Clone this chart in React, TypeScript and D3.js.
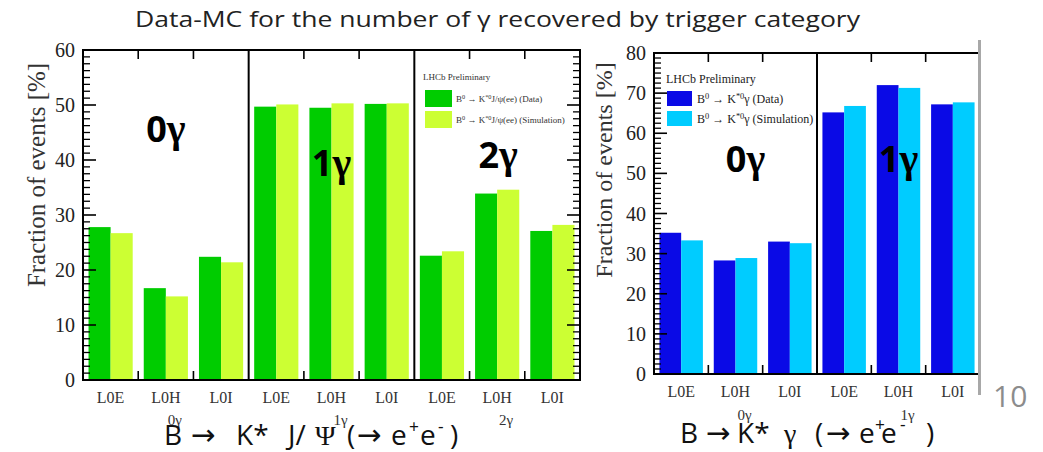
import React from "react";
import * as d3 from "d3";

// ---------- data ----------
const triggerCats = ["L0E", "L0H", "L0I"];
const leftGroups = ["0γ", "1γ", "2γ"];
const leftData = [27.8, 16.7, 22.4, 49.7, 49.5, 50.2, 22.6, 33.9, 27.1];
const leftSim = [26.7, 15.2, 21.4, 50.1, 50.3, 50.3, 23.4, 34.6, 28.2];
const leftTicks = [0, 10, 20, 30, 40, 50, 60];

const rightGroups = ["0γ", "1γ"];
const rightData = [35.2, 28.3, 33.0, 65.2, 72.0, 67.2];
const rightSim = [33.3, 28.9, 32.6, 66.8, 71.3, 67.7];
const rightTicks = [0, 10, 20, 30, 40, 50, 60, 70, 80];

const SERIF = "'Liberation Serif', 'Times New Roman', serif";
const SANS = "'Open Sans', 'Liberation Sans', sans-serif";
const ARROWF = "'DejaVu Sans', sans-serif";

type PanelProps = {
  x0: number; x1: number; yTop: number; yBot: number; yMax: number;
  ticks: number[]; groups: string[]; data: number[]; sim: number[];
  cData: string; cSim: string; minorStep: number; rightTicksOn: boolean;
  tickFont: number; catFont: number; bigLabels: { dx: number; y: number }[];
  groupLabelY: number; catLabelY: number;
};

function Panel(p: PanelProps) {
  const n = p.data.length;
  const x = d3.scaleLinear().domain([0, n]).range([p.x0, p.x1]);
  const y = d3.scaleLinear().domain([0, p.yMax]).range([p.yBot, p.yTop]);
  const minors = d3.range(0, p.yMax + 1e-6, p.minorStep).filter(v => Math.abs(v / 10 - Math.round(v / 10)) > 1e-6);
  const per = triggerCats.length;
  const els: React.ReactNode[] = [];
  p.data.forEach((v, i) => {
    els.push(<rect key={"d" + i} x={x(i + 0.1)} y={y(v)} width={x(i + 0.5) - x(i + 0.1)} height={y(0) - y(v)} fill={p.cData} />);
    els.push(<rect key={"s" + i} x={x(i + 0.5)} y={y(p.sim[i])} width={x(i + 0.9) - x(i + 0.5)} height={y(0) - y(p.sim[i])} fill={p.cSim} />);
  });
  p.ticks.forEach(t => {
    els.push(<line key={"yt" + t} x1={p.x0} x2={p.x0 + 13} y1={y(t)} y2={y(t)} stroke="#000" strokeWidth={1.6} />);
    if (p.rightTicksOn) els.push(<line key={"yr" + t} x1={p.x1} x2={p.x1 - 13} y1={y(t)} y2={y(t)} stroke="#000" strokeWidth={1.6} />);
    els.push(<text key={"yl" + t} x={p.x0 - 8} y={y(t)} dy="0.35em" textAnchor="end" fontFamily={SERIF} fontSize={p.tickFont} fill="#222">{t}</text>);
  });
  minors.forEach(t => {
    els.push(<line key={"ym" + t} x1={p.x0} x2={p.x0 + 7} y1={y(t)} y2={y(t)} stroke="#000" strokeWidth={1.3} />);
    if (p.rightTicksOn) els.push(<line key={"ymr" + t} x1={p.x1} x2={p.x1 - 7} y1={y(t)} y2={y(t)} stroke="#000" strokeWidth={1.3} />);
  });
  for (let i = 1; i < n; i++) {
    if (i % per === 0) {
      els.push(<line key={"dv" + i} x1={x(i)} x2={x(i)} y1={p.yTop} y2={p.yBot} stroke="#000" strokeWidth={2} />);
    } else {
      els.push(<line key={"xb" + i} x1={x(i)} x2={x(i)} y1={p.yBot} y2={p.yBot - 9} stroke="#000" strokeWidth={1.6} />);
      els.push(<line key={"xt" + i} x1={x(i)} x2={x(i)} y1={p.yTop} y2={p.yTop + 9} stroke="#000" strokeWidth={1.6} />);
    }
  }
  p.data.forEach((_, i) => {
    els.push(<text key={"cl" + i} x={x(i + 0.5)} y={p.catLabelY} textAnchor="middle" fontFamily={SERIF} fontSize={p.catFont} fill="#333">{triggerCats[i % per]}</text>);
  });
  p.groups.forEach((g, gi) => {
    const cx = x(gi * per + per / 2);
    els.push(<text key={"gl" + gi} x={cx + 9} y={p.groupLabelY} textAnchor="middle" fontFamily={SERIF} fontSize={15} fill="#333">{g}</text>);
    const b = p.bigLabels[gi];
    els.push(
      <text key={"bg" + gi} x={cx + b.dx} y={b.y} textAnchor="middle" fontFamily={SANS} fontWeight="bold" fontSize={36} fill="#000">
        {g.slice(0, 1)}<tspan fontFamily={SERIF} fontSize={40}>{g.slice(1)}</tspan>
      </text>
    );
  });
  els.push(<rect key="frame" x={p.x0} y={p.yTop} width={p.x1 - p.x0} height={p.yBot - p.yTop} fill="none" stroke="#000" strokeWidth={2} />);
  return <g>{els}</g>;
}

function Sup({ children }: { children: React.ReactNode }) {
  return <tspan baselineShift="super" fontSize="70%">{children}</tspan>;
}

type Tok = { x: number; t: string; arrow?: boolean; sup?: boolean; serif?: boolean };
function Tokens({ toks, y, size }: { toks: Tok[]; y: number; size: number }) {
  return (
    <g>
      {toks.map((k, i) => (
        <text key={i} x={k.x} y={k.sup ? y - size * 0.42 : y}
          fontFamily={k.arrow ? ARROWF : k.serif ? SERIF : SANS}
          fontSize={k.sup ? size * 0.62 : k.arrow ? size * 1.05 : size} fill="#111">{k.t}</text>
      ))}
    </g>
  );
}

const leftTitleToks: Tok[] = [
  { x: 164, t: "B" }, { x: 191, t: "→", arrow: true }, { x: 236, t: "K*" },
  { x: 288, t: "J/" }, { x: 315, t: "Ψ", serif: true }, { x: 347, t: "(" }, { x: 357, t: "→", arrow: true },
  { x: 391, t: "e" }, { x: 409, t: "+", sup: true }, { x: 420, t: "e" }, { x: 438, t: "-", sup: true }, { x: 450, t: ")" },
];
const rightTitleToks: Tok[] = [
  { x: 680, t: "B" }, { x: 706, t: "→", arrow: true }, { x: 737, t: "K*" },
  { x: 784, t: "γ", serif: true }, { x: 815, t: "(" }, { x: 826, t: "→", arrow: true },
  { x: 859, t: "e" }, { x: 875, t: "+", sup: true }, { x: 881, t: "e" }, { x: 900, t: "-", sup: true }, { x: 926, t: ")" },
];

export default function App() {
  return (
    <svg width={1043} height={452} style={{ position: "absolute", left: 0, top: 0, background: "#fff" }}>
      <rect x={0} y={0} width={1043} height={452} fill="#fff" />
      <text x={135} y={27} fontFamily={SANS} fontSize={22} fill="#222" textLength={725} lengthAdjust="spacingAndGlyphs">
        Data-MC for the number of γ recovered by trigger category
      </text>

      <Panel x0={83} x1={580} yTop={50} yBot={380} yMax={60} ticks={leftTicks} groups={leftGroups}
        data={leftData} sim={leftSim} cData="#00cc00" cSim="#ccff33" minorStep={1.25} rightTicksOn={true}
        tickFont={20} catFont={16} groupLabelY={425} catLabelY={403}
        bigLabels={[{ dx: 0, y: 142 }, { dx: 0, y: 176 }, { dx: 1, y: 168 }]} />
      <text transform="translate(45,175) rotate(-90)" textAnchor="middle" fontFamily={SERIF} fontSize={25} fill="#333">
        Fraction of events [%]
      </text>
      <text x={423} y={80} fontFamily={SERIF} fontSize={9} fill="#333">LHCb Preliminary</text>
      <rect x={425} y={90} width={27} height={17} fill="#00cc00" />
      <text x={456} y={102} fontFamily={SERIF} fontSize={9} fill="#333">B<Sup>0</Sup> → K<Sup>*0</Sup>J/ψ(ee) (Data)</text>
      <rect x={425} y={111} width={27} height={17} fill="#ccff33" />
      <text x={456} y={123} fontFamily={SERIF} fontSize={9} fill="#333">B<Sup>0</Sup> → K<Sup>*0</Sup>J/ψ(ee) (Simulation)</text>

      <Panel x0={654} x1={980} yTop={53} yBot={374} yMax={80} ticks={rightTicks} groups={rightGroups}
        data={rightData} sim={rightSim} cData="#0a0ae6" cSim="#00ccff" minorStep={1.25} rightTicksOn={false}
        tickFont={20} catFont={16} groupLabelY={420} catLabelY={397}
        bigLabels={[{ dx: 10, y: 172 }, { dx: 0, y: 172 }]} />
      <text transform="translate(612,170) rotate(-90)" textAnchor="middle" fontFamily={SERIF} fontSize={24} fill="#333">
        Fraction of events [%]
      </text>
      <rect x={978} y={40} width={3} height={355} fill="#a8a8a8" />
      <text x={666} y={83} fontFamily={SERIF} fontSize={12} fill="#222">LHCb Preliminary</text>
      <rect x={667} y={91} width={25} height={15} fill="#0a0ae6" />
      <text x={697} y={103} fontFamily={SERIF} fontSize={12} fill="#222">B<Sup>0</Sup> → K<Sup>*0</Sup>γ (Data)</text>
      <rect x={667} y={111} width={25} height={15} fill="#00ccff" />
      <text x={697} y={123} fontFamily={SERIF} fontSize={12} fill="#222">B<Sup>0</Sup> → K<Sup>*0</Sup>γ (Simulation)</text>

      <Tokens toks={leftTitleToks} y={445} size={28} />
      <Tokens toks={rightTitleToks} y={443} size={28} />
      <text x={993} y={407} fontFamily={SANS} fontSize={30} fill="#8c8c8c">10</text>
    </svg>
  );
}
